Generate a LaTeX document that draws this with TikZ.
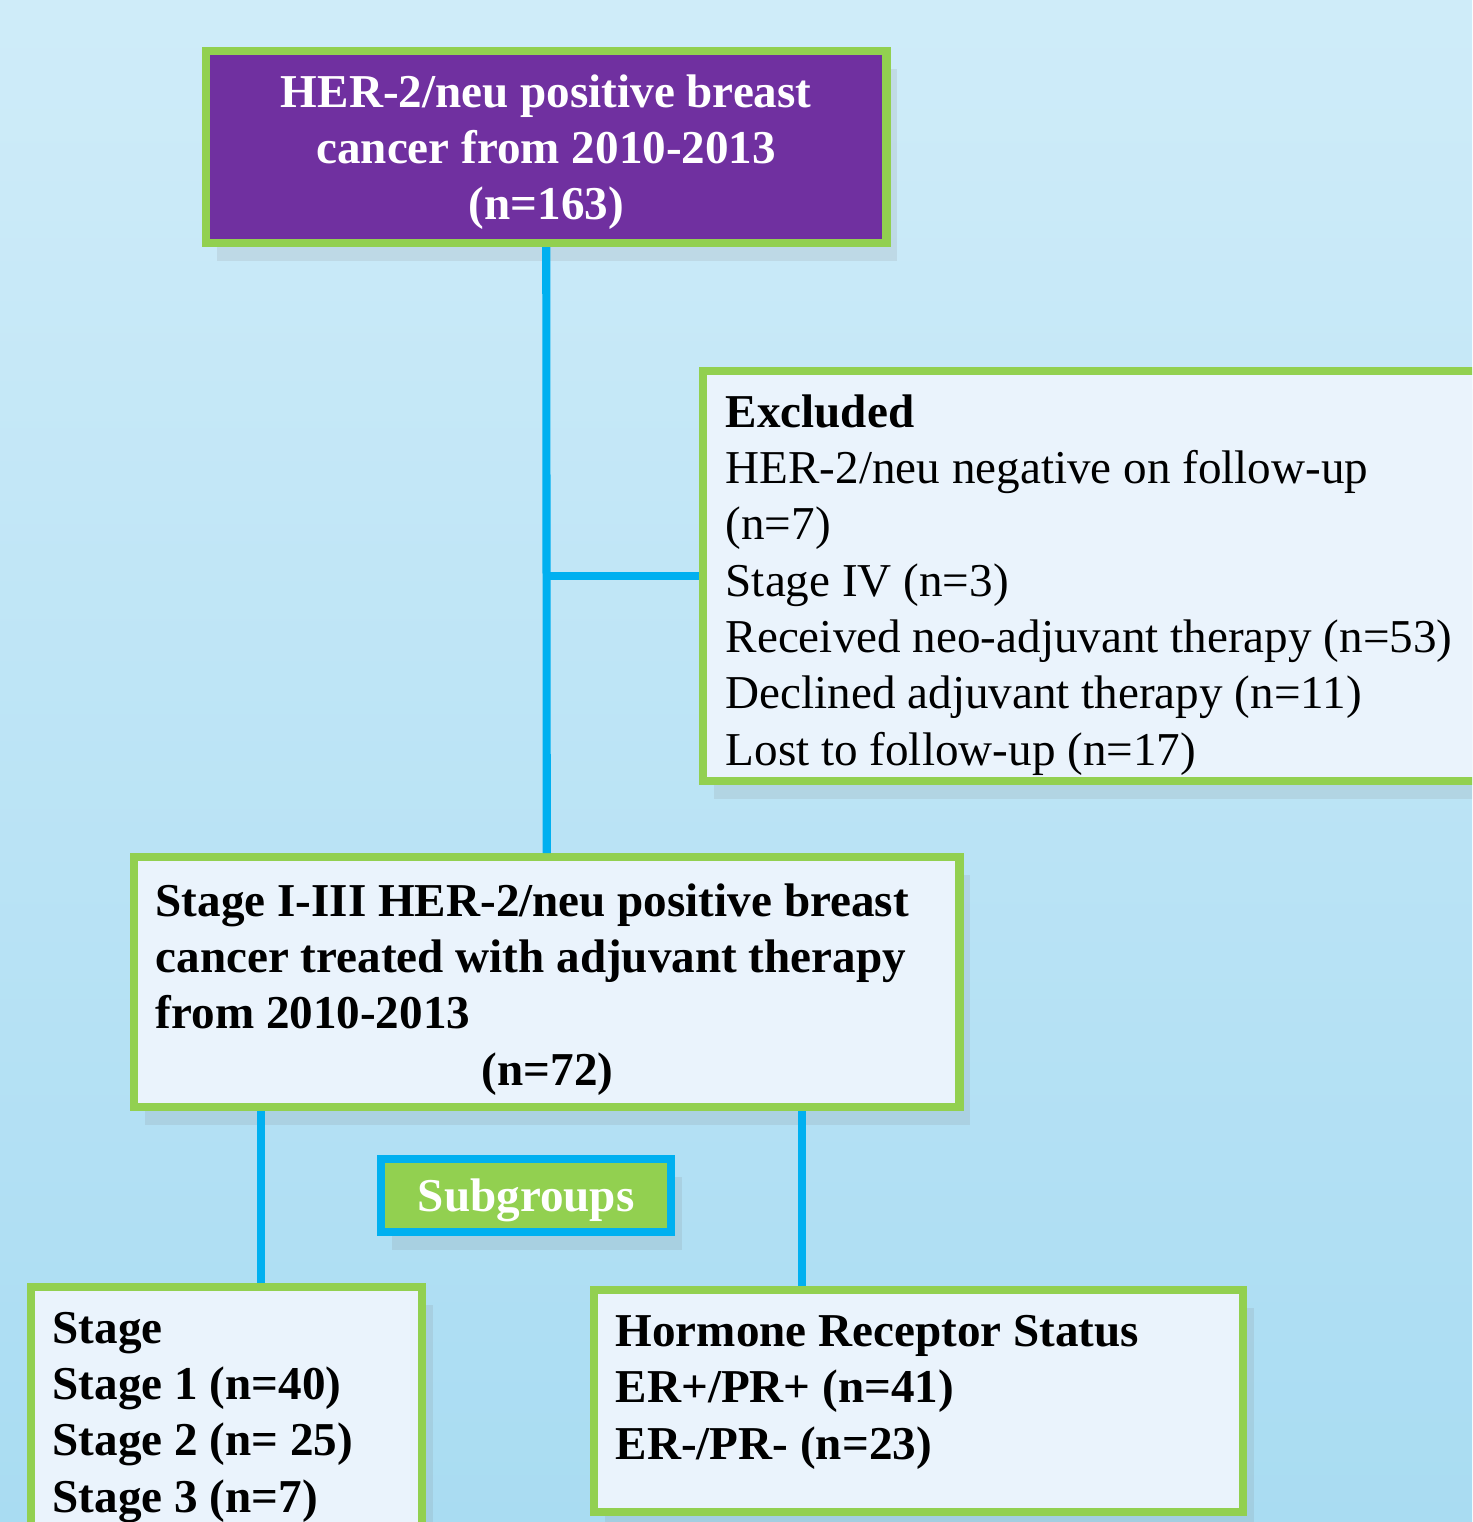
\documentclass[tikz,border=0pt]{standalone}
\usepackage{fontspec}
\setmainfont{Liberation Serif}
\usetikzlibrary{shadows}

\definecolor{hergreen}{HTML}{92D050}
\definecolor{herblue}{HTML}{00B0F0}
\definecolor{herpurple}{HTML}{7030A0}
\definecolor{herpale}{HTML}{EAF3FC}
\definecolor{bgtop}{HTML}{CFECF9}
\definecolor{bgbot}{HTML}{A9DCF2}

\tikzset{
  box/.style={draw=hergreen, line width=2.3pt, fill=herpale, anchor=north west,
    inner sep=0pt, drop shadow={shadow xshift=3pt, shadow yshift=-5pt, opacity=0.15}},
  boxtext/.style={anchor=base west, align=left, inner sep=0pt,
    font=\fontsize{13.4}{16}\selectfont},
  boldtext/.style={boxtext, font=\bfseries\fontsize{13.4}{16}\selectfont},
  link/.style={draw=herblue, line width=2.3pt},
}

\begin{document}
\begin{tikzpicture}[x=0.01cm, y=-0.01cm]
    % Fond
    \useasboundingbox (0,0) rectangle (1472,1522);
    \clip (0,0) rectangle (1472,1522);
    \shade[top color=bgtop, bottom color=bgbot] (0,0) rectangle (1472,1522);

    % Cadres
    \node[box, fill=herpurple, minimum width=6.8cm, minimum height=1.92cm, text depth=0pt,
      align=center, text=white, font=\bfseries\fontsize{13.4}{16}\selectfont]
      (start) at (202,47) {HER-2/neu positive breast\\cancer from 2010-2013\\(n=163)};
    \node[box, minimum width=7.83cm, minimum height=4.10cm] (excl) at (699,367) {};
    \node[box, minimum width=8.25cm, minimum height=2.50cm] (main) at (130,853) {};
    \node[box, fill=hergreen, draw=herblue, minimum width=2.90cm, minimum height=0.73cm,
      text depth=0pt, text=white, font=\bfseries\fontsize{13.4}{16}\selectfont]
      (sub) at (377,1155) {Subgroups};
    \node[box, minimum width=3.91cm, minimum height=2.80cm] (stage) at (27,1283) {};
    \node[box, minimum width=6.49cm, minimum height=2.22cm] (horm) at (590,1286) {};

    % Textes (ancre sur la derniere ligne)
    \node[boxtext] (excltext) at (725,765) {\textbf{Excluded}\\
      HER-2/neu negative on follow-up\\(n=7)\\Stage IV (n=3)\\
      Received neo-adjuvant therapy (n=53)\\Declined adjuvant therapy (n=11)\\
      Lost to follow-up (n=17)};
    \node[boldtext] (maintext) at (155,1085) {Stage I-III HER-2/neu positive breast\\
      cancer treated with adjuvant therapy\\from 2010-2013\\
      \hspace*{3.26cm}(n=72)};
    \node[boldtext] (stagetext) at (52,1512)
      {Stage\\Stage 1 (n=40)\\Stage 2 (n= 25)\\Stage 3 (n=7)};
    \node[boldtext] (hormtext) at (615,1459)
      {Hormone Receptor Status\\ER+/PR+ (n=41)\\ER-/PR- (n=23)};

    % Liaisons
    \draw[link] (start.south) -- (main.north);
    \draw[link] (excl.west) -- (excl.west -| start.south);
    \draw[link] (261,0 |- main.south) -- (261,0 |- stage.north);
    \draw[link] (802,0 |- main.south) -- (802,0 |- horm.north);
\end{tikzpicture}
\end{document}
